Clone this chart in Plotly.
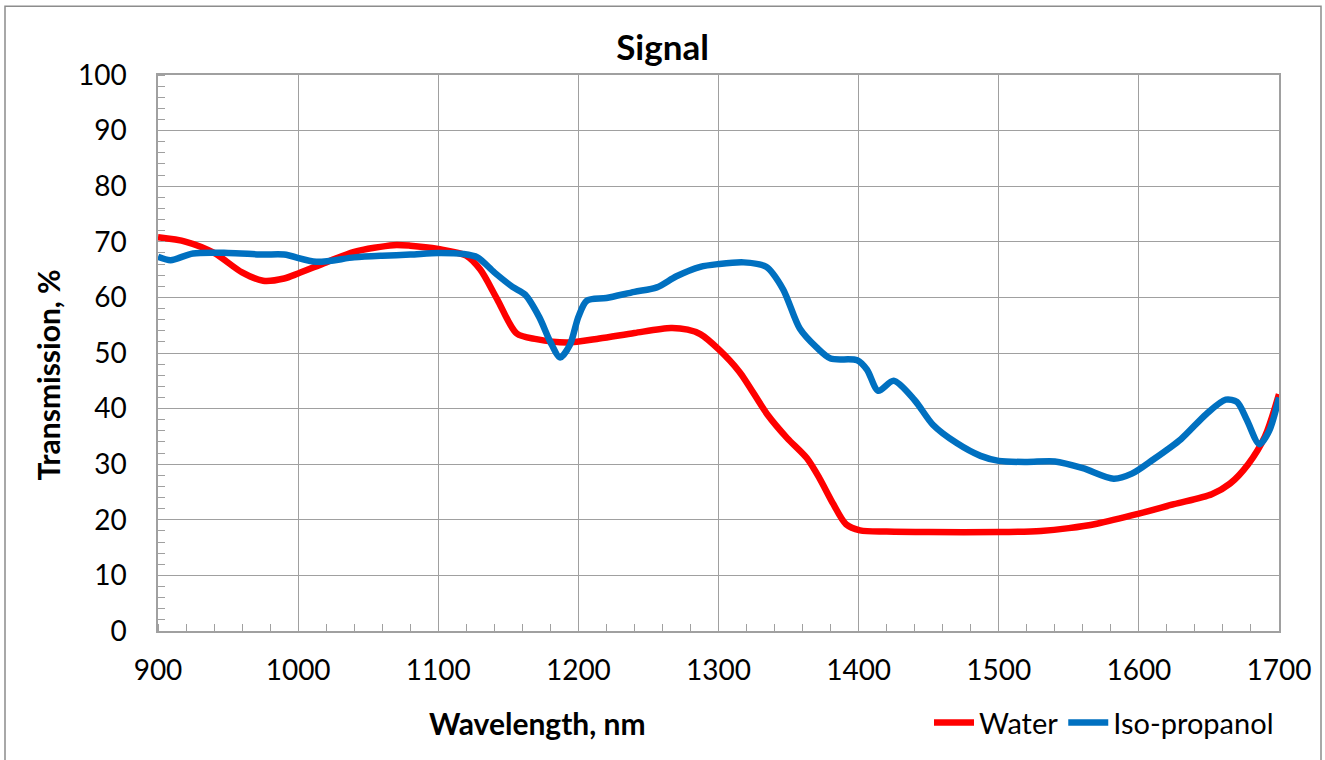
import plotly.graph_objects as go

wl_water = [900, 920, 940, 960, 975, 990, 1000, 1020, 1040, 1068, 1080, 1100, 1120, 1130, 1142, 1156, 1170, 1192,
            1215, 1240, 1266, 1278, 1287, 1300, 1315, 1335, 1349, 1363, 1372, 1382, 1391, 1401, 1420, 1450, 1500,
            1530, 1550, 1570, 1600, 1625, 1652, 1665, 1678, 1690, 1700]
t_water = [70.8, 70.0, 68.0, 64.5, 63.0, 63.4, 64.3, 66.3, 68.2, 69.4, 69.3, 68.7, 67.5, 65.0, 59.7, 53.5, 52.5, 51.9,
           52.6, 53.6, 54.5, 54.2, 53.4, 50.7, 46.6, 38.9, 34.7, 31.1, 27.5, 22.8, 19.2, 18.1, 17.9, 17.8, 17.8,
           18.0, 18.5, 19.3, 21.1, 22.8, 24.6, 26.5, 30.0, 35.0, 42.6]

wl_ipa = [900, 909, 925, 950, 975, 990, 1013, 1040, 1060, 1080, 1100, 1118, 1128, 1140, 1153, 1162, 1172, 1180, 1187,
          1194, 1200, 1206, 1220, 1240, 1256, 1270, 1287, 1300, 1318, 1334, 1346, 1358, 1370, 1380, 1399, 1406, 1414,
          1425, 1440, 1453, 1470, 1487, 1500, 1520, 1540, 1560, 1582, 1595, 1610, 1630, 1648, 1662, 1670, 1677,
          1686, 1693, 1700]
t_ipa = [67.3, 66.7, 67.9, 68.0, 67.7, 67.7, 66.4, 67.2, 67.5, 67.7, 68.0, 67.8, 67.2, 64.5, 61.9, 60.5, 56.5, 52.0, 49.2,
         51.5, 56.5, 59.4, 59.9, 61.0, 61.8, 63.8, 65.5, 66.0, 66.3, 65.5, 61.5, 54.4, 51.0, 49.0, 48.7, 47.0, 43.2,
         45.0, 41.5, 37.1, 33.8, 31.5, 30.6, 30.4, 30.5, 29.3, 27.4, 28.3, 30.8, 34.5, 39.0, 41.6, 41.2, 38.0,
         33.6, 36.0, 42.0]

x_ticks = [900, 1000, 1100, 1200, 1300, 1400, 1500, 1600, 1700]
y_ticks = [0, 10, 20, 30, 40, 50, 60, 70, 80, 90, 100]

FONT = "Lato"
GRID = "#a0a0a0"

fig = go.Figure()
fig.add_trace(go.Scatter(x=wl_water, y=t_water, name="Water", mode="lines",
                         line=dict(color="#ff0000", width=6.5, shape="spline", smoothing=0.8)))
fig.add_trace(go.Scatter(x=wl_ipa, y=t_ipa, name="Iso-propanol", mode="lines",
                         line=dict(color="#0070c0", width=6.5, shape="spline", smoothing=0.8)))

fig.update_layout(
    width=1325, height=760,
    margin=dict(l=158, r=46, t=75, b=126),
    paper_bgcolor="white", plot_bgcolor="white",
    font=dict(family=FONT, size=26, color="black"),
    title=dict(text="<b>Signal</b>", x=0.5, xanchor="center", y=0.937, yanchor="middle",
               font=dict(family=FONT, size=35, color="black")),
    showlegend=True,
    legend=dict(orientation="h", x=1.0, xanchor="right", y=-0.165, yanchor="middle",
                font=dict(family=FONT, size=29), bgcolor="rgba(0,0,0,0)", itemwidth=40,
                tracegroupgap=0),
)

fig.update_xaxes(
    range=[900, 1700], tickmode="array", tickvals=x_ticks, ticktext=[str(v) for v in x_ticks],
    showgrid=True, gridcolor=GRID, gridwidth=1.3,
    showline=True, linecolor=GRID, linewidth=1.5, mirror=True,
    ticks="", tickfont=dict(family=FONT, size=28), ticklabelstandoff=14,
    minor=dict(dtick=20, tick0=900, ticks="inside", ticklen=7, tickcolor=GRID, tickwidth=1.3, showgrid=False),
    zeroline=False,
)
fig.update_yaxes(
    range=[0, 100], tickmode="array", tickvals=y_ticks, ticktext=[str(v) for v in y_ticks],
    showgrid=True, gridcolor=GRID, gridwidth=1.3,
    showline=True, linecolor=GRID, linewidth=1.5, mirror=True,
    ticks="", tickfont=dict(family=FONT, size=28), ticklabelstandoff=24,
    minor=dict(dtick=2, tick0=0, ticks="inside", ticklen=7, tickcolor=GRID, tickwidth=1.3, showgrid=False),
    zeroline=False,
)

# axis titles (positioned as in the reference, offset from the plot centre)
fig.add_annotation(text="<b>Wavelength, nm</b>", xref="paper", yref="paper",
                   x=(537 - 158) / 1121, y=(634 - 726) / 559, xanchor="center", yanchor="middle",
                   showarrow=False, font=dict(family=FONT, size=30, color="black"))
fig.add_annotation(text="<b>Transmission, %</b>", xref="paper", yref="paper",
                   x=(48 - 158) / 1121, y=(634 - 377) / 559, xanchor="center", yanchor="middle",
                   textangle=-90, showarrow=False, font=dict(family=FONT, size=30, color="black"))

# outer chart border
fig.add_shape(type="rect", xref="paper", yref="paper",
              x0=(5 - 158) / 1121, x1=(1321 - 158) / 1121,
              y0=(634 - 770) / 559, y1=(634 - 6) / 559,
              line=dict(color="#8c8c8c", width=1.5), fillcolor="rgba(0,0,0,0)", layer="below")

fig.write_html("out.html", config={"displayModeBar": False},
               post_script="document.body.style.margin='0';document.body.style.padding='0';")
